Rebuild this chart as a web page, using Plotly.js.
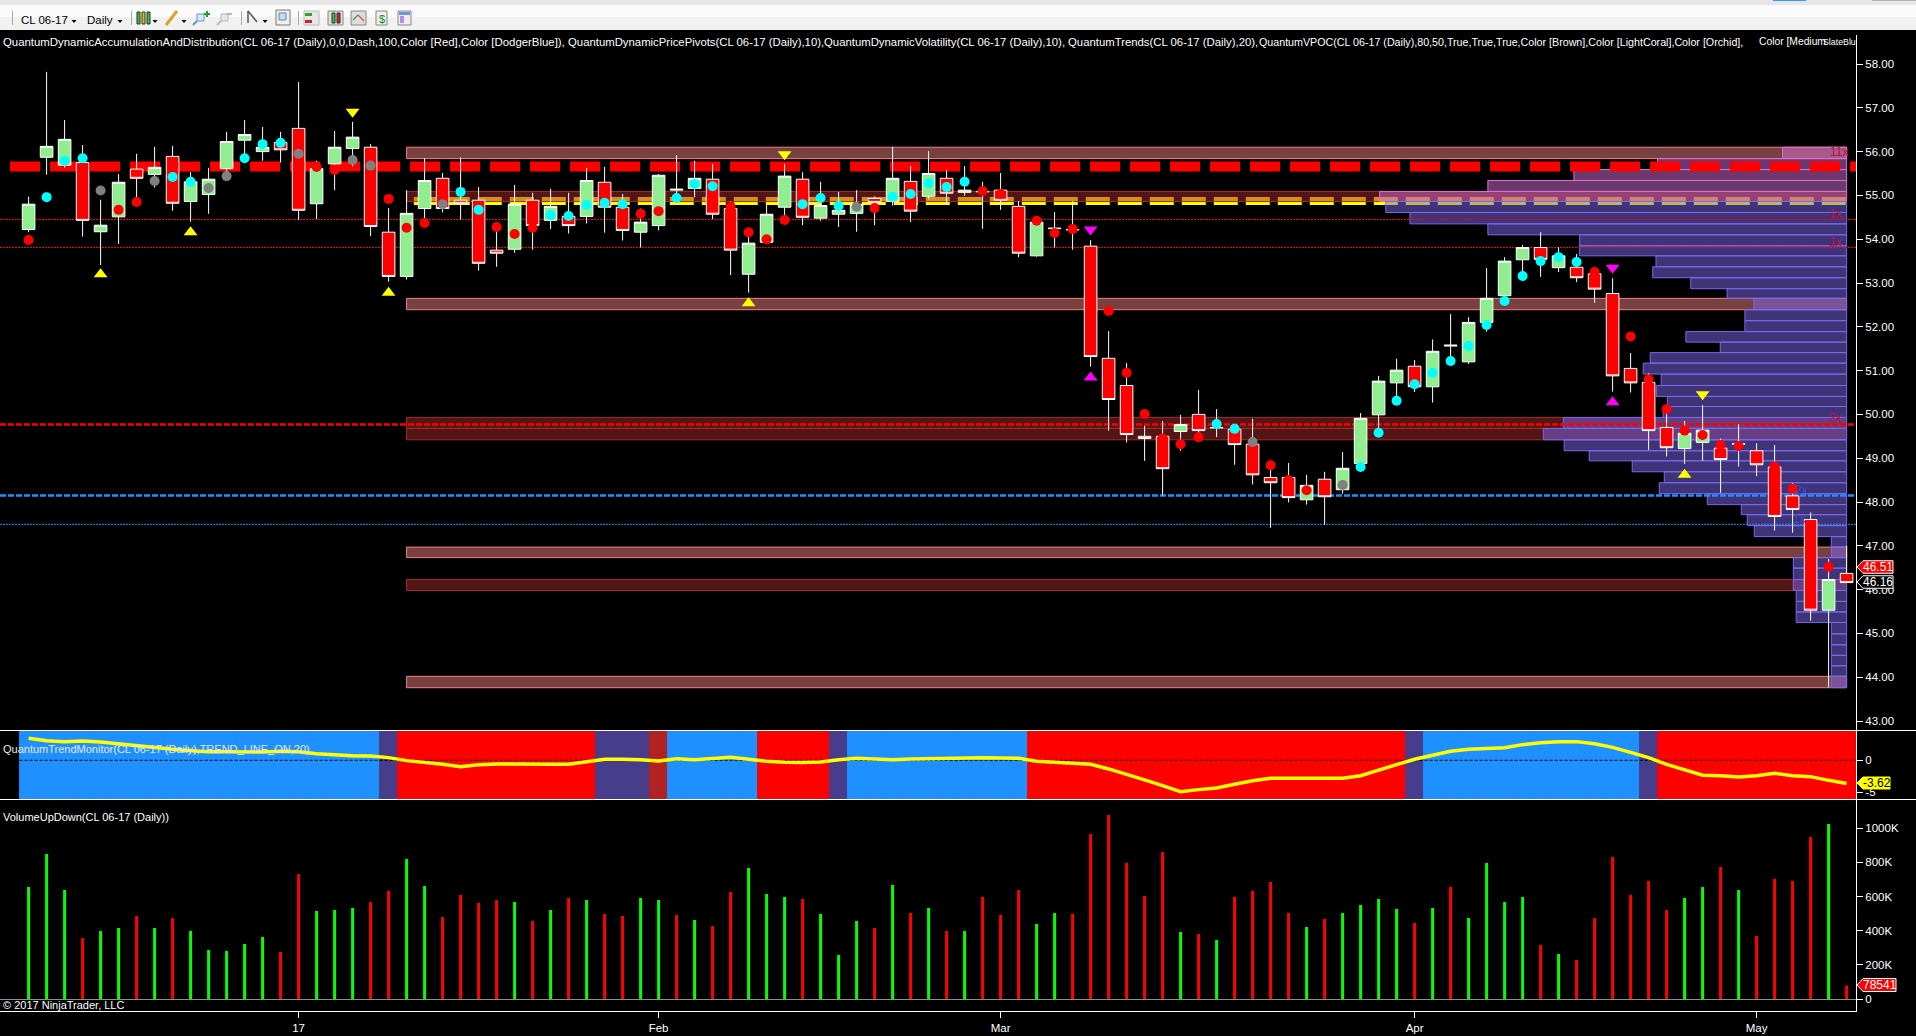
<!DOCTYPE html>
<html><head><meta charset="utf-8">
<script src="https://cdn.plot.ly/plotly-3.0.1.min.js"></script>
<style>html,body{margin:0;padding:0;background:#000;overflow:hidden}#c{width:1916px;height:1036px}</style>
</head><body><div id="c"></div>
<script>
// ---- candles (CL 06-17, daily)
const open=[54.22,55.87,55.69,55.75,54.17,54.51,55.60,55.48,55.89,54.86,
55.02,55.61,56.26,56.00,56.21,56.53,54.81,55.72,56.07,56.10,
54.16,53.15,54.70,55.39,54.89,54.89,53.75,53.77,54.89,54.43,
54.52,54.52,55.30,54.73,54.16,54.31,55.12,55.16,55.37,54.70,
53.20,53.93,54.73,55.37,54.48,54.57,54.59,54.93,54.86,55.32,
54.98,55.39,55.07,55.08,55.12,54.75,53.62,54.24,54.21,53.84,
51.28,50.66,49.50,49.50,49.61,50.00,49.69,49.66,49.32,48.56,
48.56,48.05,48.52,48.28,48.88,49.99,50.72,51.10,50.63,51.56,
51.20,52.10,52.71,53.53,53.81,53.35,53.36,53.21,52.76,51.05,
50.73,49.70,49.22,49.36,49.23,49.32,49.17,48.80,48.14,47.60,
45.53,46.37];
const high=[54.97,57.82,56.72,56.15,54.90,55.49,55.95,56.11,56.13,55.53,
55.63,56.45,56.72,56.56,56.45,57.59,55.79,56.47,56.68,56.17,
54.71,55.12,55.85,55.51,55.87,55.19,54.21,55.24,55.06,55.15,
55.06,55.63,55.65,55.03,54.70,55.49,55.92,55.79,55.72,54.86,
54.05,54.78,55.72,55.53,55.31,55.08,55.12,54.98,56.11,55.67,
56.01,55.58,55.67,55.31,55.51,54.87,54.51,54.62,54.87,53.98,
51.90,51.17,49.74,49.85,49.99,50.56,50.12,49.76,49.90,48.73,
48.89,48.62,48.69,49.14,50.03,50.88,51.27,51.24,51.71,52.29,
52.22,53.34,53.59,53.87,54.16,53.82,53.66,53.34,53.11,51.40,
50.94,50.18,49.85,50.21,49.45,49.78,49.34,49.30,48.43,47.76,
46.70,47.00];
const low=[54.16,55.47,55.63,54.06,53.41,53.89,54.93,55.18,54.65,54.40,
54.58,55.47,55.81,55.79,55.75,54.44,54.46,55.12,55.66,54.07,
53.03,53.08,54.48,54.61,54.45,53.28,53.37,53.69,53.76,54.23,
54.13,54.36,54.15,53.97,53.81,54.20,54.82,54.96,54.46,53.18,
52.78,53.91,54.44,54.32,54.42,54.28,54.17,54.32,54.77,54.39,
54.91,54.80,54.99,54.24,54.67,53.59,53.60,53.81,53.76,51.09,
49.63,49.36,48.94,48.15,49.17,49.49,49.48,48.85,48.40,47.41,
47.99,47.94,47.48,48.19,48.87,49.68,50.41,50.51,50.27,51.20,
51.15,51.89,52.48,53.05,53.14,53.25,53.02,52.55,50.52,50.50,
49.19,49.04,48.87,48.94,48.21,48.81,48.59,47.35,47.30,45.29,
43.77,46.16];
const close=[54.80,56.12,56.28,54.43,54.32,55.30,55.39,55.64,54.82,55.31,
55.37,56.23,56.39,56.10,56.04,54.66,55.61,56.10,56.33,54.29,
53.15,54.59,55.34,54.70,54.82,53.45,53.68,54.80,54.31,54.75,
54.31,55.34,54.73,54.20,54.39,55.46,55.14,55.39,54.57,53.75,
53.91,54.57,55.44,54.50,54.77,54.66,54.80,54.84,55.39,54.64,
55.50,55.05,55.12,55.09,54.89,53.68,54.39,54.25,54.22,51.32,
50.34,49.54,49.45,48.76,49.77,49.63,49.70,49.31,48.62,48.44,
48.10,48.38,48.12,48.77,49.91,50.76,51.01,50.63,51.44,51.58,
52.10,52.65,53.50,53.81,53.54,53.62,53.12,52.86,50.88,50.72,
49.63,49.24,49.57,49.64,48.97,49.33,48.85,47.67,47.83,45.53,
46.23,46.16];
// ---- pivot dots
const dotPrice=[53.98,54.96,55.79,55.85,55.11,54.67,54.85,55.33,55.42,55.31,
55.17,55.44,55.85,56.17,56.20,55.95,55.65,55.58,55.81,55.68,
54.92,54.26,54.37,54.80,55.08,54.67,54.28,54.12,54.26,54.55,
54.53,54.78,54.83,54.80,54.58,54.64,54.94,55.26,55.21,54.74,
54.16,54.00,54.44,54.80,54.94,54.76,54.74,54.71,54.97,55.03,
55.28,55.19,55.31,55.10,55.03,null,54.42,54.14,54.23,null,
52.36,50.95,50.01,49.45,49.32,49.48,49.78,49.67,49.37,48.84,
48.50,48.27,null,48.39,48.80,49.58,50.31,50.69,50.95,51.22,
51.56,52.04,52.59,53.16,53.50,53.59,53.48,53.25,null,51.78,
50.80,50.12,49.63,49.53,49.30,49.28,null,48.81,48.30,null,
46.52,null];
const dotKinds="rcccgrrgcc"+"ggcccgrrgg"+"rrrgccrrrc"+"ccccrrcccr"+"rrrcccgrcc"+"cccrr-rrr-"+"rrrrrrccgr"+"rr-gcccccc"+"cccccccr-r"+"rrrrrr-rr-"+"r-";
// ---- triangles
const triUpYellowX=[4,9,20,40,92], triUpYellowY=[53.20,54.16,52.78,52.54,48.62];
const triDownYellowX=[18,42,93], triDownYellowY=[56.91,55.94,50.46];
const triDownMagentaX=[59,88], triDownMagentaY=[54.22,53.35];
const triUpMagentaX=[59,88], triUpMagentaY=[50.84,50.28];
// ---- zones
const lightZones=[[56.10,55.84],[52.65,52.39],[46.97,46.73],[44.02,43.76]];
const brownZones=[[55.09,54.86],[49.93,49.68],[49.68,49.42],[46.23,45.98]];
// ---- volume profile: row edges (price) and row lengths (in bars, from the right end)
const vpocEdges=[56.10,55.84,55.59,55.34,55.09,54.86,54.61,54.35,54.10,53.85,53.62,53.37,53.12,52.87,52.65,52.39,52.14,51.89,51.65,51.41,51.17,50.92,50.66,50.41,50.18,49.93,49.68,49.42,49.17,48.94,48.69,48.44,48.19,47.94,47.71,47.46,47.21,46.97,46.73,46.49,46.23,45.98,45.73,45.49,45.25,44.99,44.74,44.50,44.26,44.02,43.76];
const vpocLength=[3.56,10.50,15.15,19.93,25.94,25.60,24.26,19.93,14.83,14.83,10.59,10.77,8.66,6.64,5.15,5.65,5.65,8.93,7.02,10.91,11.30,10.30,10.57,9.96,10.19,15.74,16.85,15.69,14.30,11.91,10.13,10.41,7.74,5.85,5.52,5.13,0.85,0.85,2.96,2.96,2.96,2.80,2.80,2.80,0.85,0.85,0.85,0.85,0.85,0.85];
const orchidRows=5;
// ---- levels
const thickRedLevel=55.66, yellowLevel=54.87, redDashLevel=49.77, blueDashLevel=48.15, blueDotLevel=47.49;
const redDotLevels=[54.45,53.81];
// ---- trend monitor
const trendValues=[3.44,3.07,2.92,3.02,2.86,2.55,2.34,1.93,1.72,1.51,
1.35,1.35,1.30,1.30,1.41,1.35,1.04,0.83,0.73,0.68,
0.42,-0.05,-0.31,-0.63,-0.99,-0.68,-0.57,-0.63,-0.63,-0.63,
-0.63,-0.21,0.16,0.16,0.10,-0.10,0.26,0.10,0.31,0.47,
0.16,-0.16,-0.31,-0.36,-0.26,0.10,0.31,0.26,0.10,0.21,
0.26,0.42,0.42,0.42,0.36,0.31,-0.16,-0.31,-0.47,-0.63,
-1.35,-2.14,-3.07,-3.96,-4.90,-4.58,-4.32,-3.75,-3.18,-2.81,
-2.81,-2.81,-2.81,-2.81,-2.40,-1.61,-0.68,0.16,0.83,1.41,
1.72,1.82,1.98,2.45,2.76,2.92,2.92,2.60,2.03,1.25,
0.42,-0.63,-1.51,-2.34,-2.40,-2.60,-2.40,-2.03,-2.40,-2.55,
-3.13,-3.62];
const trendStates="UUUUUUUUUUUUUUUUUUUU"+"N"+"DDDDDDDDDDD"+"NNN"+"B"+"UUUUU"+"DDDD"+"N"+"UUUUUUUUUU"+"DDDDDDDDDDDDDDDDDDDDD"+"N"+"UUUUUUUUUUUU"+"N"+"DDDDDDDDDDD";
// ---- volume (thousands)
const volume=[656,850,639,357,398,416,486,416,475,398,
287,281,322,363,275,732,516,521,533,568,
633,820,662,480,609,563,580,568,457,521,
592,580,498,486,592,580,492,463,428,627,
768,615,598,586,498,258,457,416,668,504,
533,398,398,598,492,639,439,504,498,967,
1078,797,604,861,393,381,346,598,633,686,
504,422,469,504,551,586,527,445,533,656,
475,797,568,598,316,264,229,475,832,609,
691,521,592,656,773,639,369,703,691,949,
1025,78.541];
const volDir=["g","g","g","r","g","g","r","g","r","g","g","g","g","g","r","r","g","g","g","r",
"r","g","g","r","r","r","r","g","r","g","r","g","r","r","g","g","r","g","r","r",
"g","g","g","r","g","g","g","r","g","r","g","r","g","r","r","r","g","g","r","r",
"r","r","r","r","g","r","g","r","r","r","r","g","r","g","g","g","g","r","g","r",
"g","g","g","g","r","g","r","r","r","r","r","r","g","g","r","g","r","r","r","r","g","r"];
// ---- tick labels
const xTickPos=[15,35,54,77,96], xTickText=["17","Feb","Mar","Apr","May"];
const priceTicks=[43,44,45,46,47,48,49,50,51,52,53,54,55,56,57,58];
const volTicks=[0,200,400,600,800,1000], volTickText=["0","200K","400K","600K","800K","1000K"];
const idx=open.map((_,i)=>i);

const FONT='"Liberation Sans", Arial, sans-serif';
const W=1856,PT=30,PB=1011,PH=PB-PT;
const px=x=>x/W, py=y=>(PB-y)/PH;
const shapes=[],ann=[];
const hline=(x0,x1,y,color,width,dash,layer)=>shapes.push({type:'line',xref:'x',yref:'y',x0,x1,y0:y,y1:y,line:{color,width,dash},layer:layer||'below'});
const prect=(x0,y0,x1,y1,fill,line,layer)=>shapes.push({type:'rect',xref:'paper',yref:'paper',x0:px(x0),x1:px(x1),y0:py(y0),y1:py(y1),fillcolor:fill,line:{color:line||fill,width:line?1:0},layer:layer||'below'});
const pline=(x0,y0,x1,y1,color,w)=>shapes.push({type:'line',xref:'paper',yref:'paper',x0:px(x0),x1:px(x1),y0:py(y0),y1:py(y1),line:{color,width:w||1},layer:'above'});
const ptext=(x,y,text,color,size,anchor)=>ann.push({xref:'paper',yref:'paper',x:px(x),y:py(y),text,showarrow:false,xanchor:anchor||'left',yanchor:'middle',font:{family:FONT,size:size||11,color:color||'#fff'},borderpad:0});

// price panel: yellow level, zones, profile, levels
const LEFT=-1.589,RIGHT=101.522,ZONE0=21,PROFILE_END=101;
hline(21.4,PROFILE_END,yellowLevel,'#FFFF00',8,'24px,8px');
const zone=(z,fill,col)=>shapes.push({type:'rect',xref:'x',yref:'y',x0:ZONE0,x1:PROFILE_END,y0:z[1],y1:z[0],fillcolor:fill,line:{color:col,width:1},layer:'below'});
brownZones.forEach(z=>zone(z,'rgba(165,42,42,0.5)','#A52A2A'));
lightZones.forEach(z=>zone(z,'rgba(240,128,128,0.5)','#F08080'));
vpocLength.forEach((len,r)=>{const o=r<orchidRows;shapes.push({type:'rect',xref:'x',yref:'y',x0:PROFILE_END-len,x1:PROFILE_END,y0:vpocEdges[r+1],y1:vpocEdges[r],
 fillcolor:o?'rgba(218,112,214,0.5)':'rgba(123,104,238,0.5)',line:{color:o?'#DA70D6':'#7B68EE',width:1},layer:'below'});});
redDotLevels.forEach(l=>hline(LEFT,RIGHT,l,'#FF0000',1,'2px,1px'));
hline(LEFT,RIGHT,blueDotLevel,'#1E90FF',1,'2px,1px');
hline(LEFT,RIGHT,redDashLevel,'#FF0000',2.4,'6px,2px');
hline(LEFT,RIGHT,blueDashLevel,'#1E90FF',2.4,'6px,2px');
hline(-1.03,RIGHT,thickRedLevel,'#FF0000',10,'30px,10px');

// multiplier labels
[[100.6,56.0,'11x','#C01040'],[100.4,54.58,'1x','#C01040'],[100.4,53.94,'1x','#C01040'],[100.4,49.92,'2x','#C01040'],[98.5,48.28,'2x','#3A50C8'],[98.4,47.62,'1x','#3A50C8']]
 .forEach(a=>ann.push({xref:'x',yref:'y',x:a[0],y:a[1],text:a[2],showarrow:false,font:{family:FONT,size:12,color:a[3]}}));

// dividers
pline(0,730.5,1916,730.5,'#fff',1.2);pline(0,799.5,1916,799.5,'#fff',1.2);

// toolbar
prect(0,0,1916,5,'#E6E6E6');prect(0,5,1916,17,'#FBFBFB');prect(0,17,1916,30,'#F1F1F1');
prect(1773,0,1806,1,'#3399FF');prect(1872,0,1916,1,'#B5B5B5');
[12,131,241,298].forEach(x=>prect(x,11,x+1,25,'#A8A8A8'));
ptext(20,20.5,'CL 06-17','#000',11.5);ptext(86,20.5,'Daily','#000',11.5);
const arrow=(x,y)=>shapes.push({type:'path',xref:'paper',yref:'paper',path:`M${px(x-2.5)},${py(y-1)} L${px(x+2.5)},${py(y-1)} L${px(x)},${py(y+2)} Z`,fillcolor:'#000',line:{width:0},layer:'below'});
[74,120,155,184,265].forEach(x=>arrow(x,21));
[[137,'#35C435'],[142,'#D9C010'],[147,'#35C435']].forEach(c=>{prect(c[0],12,c[0]+3,24,c[1],'#333');});
pline(166,25,177,11,'#E0A020',3);
[[201,'#5A9AD0'],[225,'#B8B8B8']].forEach(c=>{prect(c[0]-4,14,c[0]+3,21,'#DDE8F5',c[1]);pline(c[0]-4,21,c[0]-8,25,c[1],2);});
pline(207,11,207,17,'#20A020',2);pline(204,14,210,14,'#20A020',2);pline(226,14,232,14,'#B8B8B8',2);
pline(248,11,257,22,'#555',1.5);pline(248,11,248,23,'#555',1.5);
prect(276,10,290,25,'#F0F0F0','#777');prect(279,13,286,20,'#C8DCF0','#5A8AB0');
prect(304,11,319,25,'#E8E8E8','#BBB');prect(305,13,312,16,'#35A035');prect(305,20,312,23,'#D02020');
prect(328,11,343,25,'#DDD','#888');prect(332,13,335,23,'#35C435','#333');prect(337,13,340,23,'#D02020','#333');
prect(351,11,366,25,'#DDD','#888');pline(353,20,358,15,'#30A050',1.2);pline(358,15,364,21,'#D05050',1.2);
prect(376,11,387,25,'#EEE','#888');ptext(378,18.5,'$','#109010',11);
prect(398,11,411,25,'#EEE','#888');prect(399,12,410,15,'#7090E0');prect(400,16,404,23,'#B090E0');

// indicator captions (placed piece by piece, as the original text runs tighter at its right end)
const CAP=11.35;
ptext(2,42,'QuantumDynamicAccumulationAndDistribution(CL 06-17 (Daily),0,0,Dash,100,Color [Red],Color [DodgerBlue]),','#fff',11.4);
ptext(567,42,'QuantumDynamicPricePivots(CL 06-17 (Daily),10),','#fff',CAP);
ptext(823,42,'QuantumDynamicVolatility(CL 06-17 (Daily),10),','#fff',CAP);
ptext(1067,42,'QuantumTrends(CL 06-17 (Daily),20),','#fff',CAP);
ptext(1258,42,'QuantumVPOC(CL 06-17 (Daily),80,50,True,True,True,Color [Brown],Color [LightCoral],Color [Orchid],','#fff',10.7);
ptext(1758,42,'Color [Medium','#fff',10.3);
ptext(1822,42,'SlateBlu','#fff',8.8);
ptext(2,749,'QuantumTrendMonitor(CL 06-17 (Daily),TREND_LINE_ON,20)','#E8E8E8');
ptext(2,817,'VolumeUpDown(CL 06-17 (Daily))');
ptext(2,1005,'© 2017 NinjaTrader, LLC');

// right-hand value tags
const tag=(yc,x1,h,fill,line,text,tc)=>{shapes.push({type:'path',xref:'paper',yref:'paper',path:`M${px(1857)},${py(yc)} L${px(1863)},${py(yc-h/2)} L${px(x1)},${py(yc-h/2)} L${px(x1)},${py(yc+h/2)} L${px(1863)},${py(yc+h/2)} Z`,fillcolor:fill,line:{color:line,width:1},layer:'above'});ptext((1863+x1)/2,yc,text,tc,12,'center');};
tag(567,1893,12.5,'#FF0000','#fff','46.51','#fff');
tag(582,1893,12.5,'#000','#fff','46.16','#fff');
tag(783,1890,12,'#FFFF00','#FFFF00','-3.62','#000');
tag(985,1896,13,'#FF0000','#fff','78541','#fff');

const stateCol={U:'#1E90FF',N:'#483D8B',D:'#FF0000',B:'#B22222'};
const tickFont={family:FONT,size:11.5,color:'#fff'};
const yax=(domain,range,extra)=>Object.assign({domain,range,side:'right',anchor:'x',showgrid:false,zeroline:false,showline:true,linecolor:'#fff',linewidth:1,ticks:'outside',ticklen:6,tickcolor:'#fff',tickwidth:1,tickfont:tickFont,fixedrange:true},extra);
const d3=(PB-799.5)/PH,d2=(PB-730.5)/PH,d1=(PB-35)/PH;
const stateColors=trendStates.split('').map(s=>stateCol[s]);

const traces=[
 {type:'bar',x:idx,y:stateColors.map(()=>10.785),base:-6.125,width:1,marker:{color:stateColors,line:{color:stateColors,width:1}},xaxis:'x',yaxis:'y2',hoverinfo:'skip'},
 {type:'scatter',mode:'lines',x:[-0.5,101.5],y:[0,0],line:{color:'#000',width:1,dash:'3px,2px'},xaxis:'x',yaxis:'y2',hoverinfo:'skip'},
 {type:'scatter',mode:'lines',x:idx,y:trendValues,line:{color:'#FFFF00',width:3.5},xaxis:'x',yaxis:'y2',hoverinfo:'skip'},
 {type:'bar',x:idx,y:volume,width:0.167,marker:{color:volDir.map(d=>d==='g'?'#00FF00':'#FF0000'),line:{width:0}},xaxis:'x',yaxis:'y3',hoverinfo:'skip'},
 {type:'candlestick',x:idx,open,high,low,close,xaxis:'x',yaxis:'y',whiskerwidth:0,hoverinfo:'skip',
  increasing:{line:{color:'#fff',width:1},fillcolor:'#90EE90'},decreasing:{line:{color:'#fff',width:1},fillcolor:'#FF0000'}},
 {type:'scatter',mode:'markers',x:idx,y:dotPrice,marker:{size:10,color:dotKinds.split('').map(k=>k==='r'?'#FF0000':k==='c'?'#00FFFF':'#808080')},xaxis:'x',yaxis:'y',hoverinfo:'skip'},
 {type:'scatter',mode:'markers',x:triUpYellowX,y:triUpYellowY,marker:{symbol:'triangle-up',size:12,color:'#FFFF00'},xaxis:'x',yaxis:'y',hoverinfo:'skip'},
 {type:'scatter',mode:'markers',x:triDownYellowX,y:triDownYellowY,marker:{symbol:'triangle-down',size:12,color:'#FFFF00'},xaxis:'x',yaxis:'y',hoverinfo:'skip'},
 {type:'scatter',mode:'markers',x:triDownMagentaX,y:triDownMagentaY,marker:{symbol:'triangle-down',size:12,color:'#FF00FF'},xaxis:'x',yaxis:'y',hoverinfo:'skip'},
 {type:'scatter',mode:'markers',x:triUpMagentaX,y:triUpMagentaY,marker:{symbol:'triangle-up',size:12,color:'#FF00FF'},xaxis:'x',yaxis:'y',hoverinfo:'skip'}
];
const layout={width:1916,height:1036,margin:{l:0,r:60,t:PT,b:1036-PB,pad:0},paper_bgcolor:'#000',plot_bgcolor:'#000',showlegend:false,hovermode:false,dragmode:false,
 barmode:'overlay',boxgap:0,
 xaxis:{domain:[0,1],range:[LEFT,RIGHT],anchor:'y3',rangeslider:{visible:false},showgrid:false,zeroline:false,showline:true,linecolor:'#fff',linewidth:1,ticks:'outside',ticklen:6,tickcolor:'#fff',tickmode:'array',tickvals:xTickPos,ticktext:xTickText,tickfont:tickFont,fixedrange:true},
 yaxis:yax([d2,d1],[42.783,58.662],{tickmode:'array',tickvals:priceTicks,ticktext:priceTicks.map(v=>v.toFixed(2))}),
 yaxis2:yax([d3,d2],[-6.125,4.66],{tickmode:'array',tickvals:[0,-5],ticktext:['0','-5']}),
 yaxis3:yax([0,d3],[-70.3,1168.7],{tickmode:'array',tickvals:volTicks,ticktext:volTickText,zeroline:true,zerolinecolor:'#909090',zerolinewidth:1}),
 shapes,annotations:ann};
Plotly.newPlot('c',traces,layout,{displayModeBar:false,staticPlot:true});
</script></body></html>
